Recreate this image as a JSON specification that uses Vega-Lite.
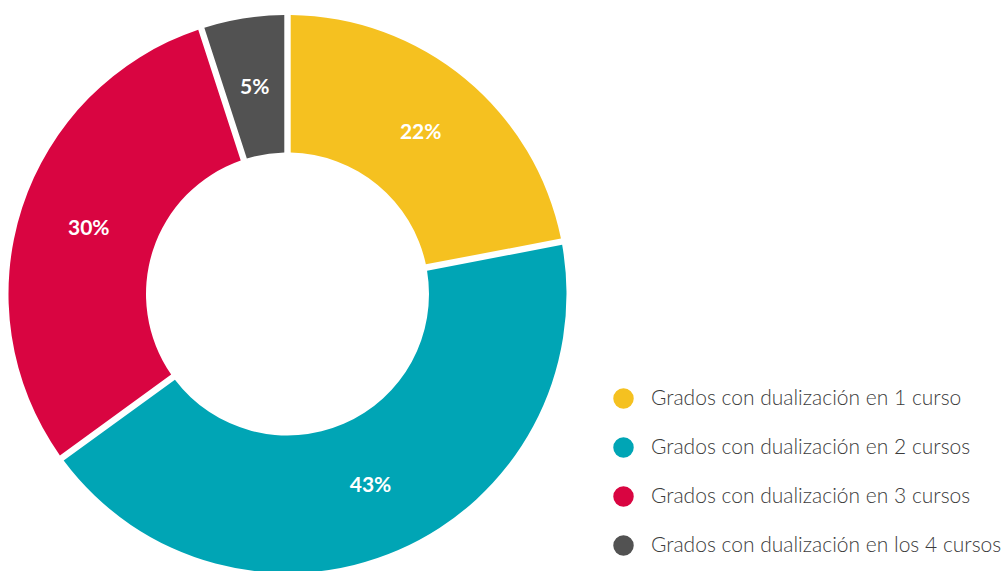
{
  "$schema": "https://vega.github.io/schema/vega-lite/v6.json",
  "width": 575,
  "height": 588,
  "padding": 0,
  "autosize": {"type": "pad"},
  "background": "white",
  "config": {"view": {"stroke": null}, "font": "Lato"},
  "data": {
    "values": [
      {"cat": "Grados con dualización en 1 curso", "pct": 22, "label": "22%", "orden": 1},
      {"cat": "Grados con dualización en 2 cursos", "pct": 43, "label": "43%", "orden": 2},
      {"cat": "Grados con dualización en 3 cursos", "pct": 30, "label": "30%", "orden": 3},
      {"cat": "Grados con dualización en los 4 cursos", "pct": 5, "label": "5%", "orden": 4}
    ]
  },
  "encoding": {
    "theta": {"field": "pct", "type": "quantitative", "stack": true},
    "order": {"field": "orden", "type": "quantitative"}
  },
  "layer": [
    {
      "mark": {"type": "arc", "outerRadius": 279, "innerRadius": 141.5, "padAngle": 0.0205},
      "encoding": {
        "color": {
          "field": "cat",
          "type": "nominal",
          "sort": null,
          "scale": {
            "domain": ["Grados con dualización en 1 curso", "Grados con dualización en 2 cursos", "Grados con dualización en 3 cursos", "Grados con dualización en los 4 cursos"],
            "range": ["#F5C120", "#00A5B5", "#D90541", "#525252"]
          },
          "legend": {
            "title": null,
            "orient": "none",
            "legendX": 613,
            "legendY": 388,
            "symbolType": "circle",
            "symbolSize": 420,
            "symbolStrokeWidth": 0,
            "labelFont": "Lato",
            "labelFontSize": 21,
            "labelFontWeight": 300,
            "labelColor": "#3c3c3c",
            "labelOffset": 17,
            "labelLimit": 500,
            "rowPadding": 27
          }
        }
      }
    },
    {
      "mark": {"type": "text", "radius": 209, "fill": "white", "font": "Lato", "fontWeight": "bold", "fontSize": 21},
      "encoding": {
        "text": {"field": "label", "type": "nominal"}
      }
    }
  ]
}
